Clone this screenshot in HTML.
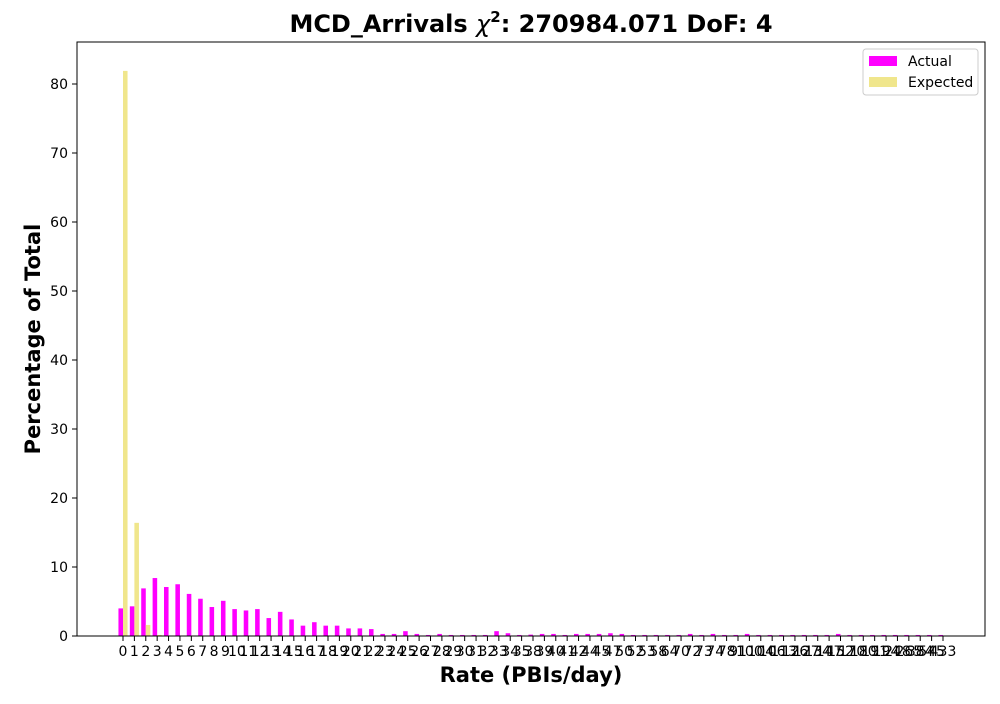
<!DOCTYPE html>
<html><head><meta charset="utf-8"><style>
body{margin:0;background:#fff;font-family:"DejaVu Sans","Liberation Sans",sans-serif}
svg text{font-family:"DejaVu Sans","Liberation Sans",sans-serif}
</style></head><body>
<svg id="chart" width="1000" height="700" xmlns="http://www.w3.org/2000/svg">
<rect width="1000" height="700" fill="#fff"/>
<text x="531" y="32" text-anchor="middle" font-size="24" font-weight="bold">MCD_Arrivals <tspan font-style="italic" font-weight="normal">χ</tspan><tspan font-size="15" dy="-10">2</tspan><tspan dy="10">: 270984.071 DoF: 4</tspan></text>
<g id="bars"></g>
<g id="yticks"></g>
<g id="xticks"></g>
<rect x="77" y="42" width="908" height="594" fill="none" stroke="#000" stroke-width="1"/>
<text x="531" y="682" text-anchor="middle" font-size="21" font-weight="bold">Rate (PBIs/day)</text>
<text transform="translate(40,339) rotate(-90)" text-anchor="middle" font-size="21" font-weight="bold">Percentage of Total</text>
<g>
<rect x="863" y="49" width="115" height="46" rx="3" fill="#fff" stroke="#ccc"/>
<rect x="869" y="56" width="28" height="10" fill="#ff00ff"/>
<text x="908" y="66" font-size="14">Actual</text>
<rect x="869" y="77" width="28" height="10" fill="#f0e68c"/>
<text x="908" y="87" font-size="14">Expected</text>
</g>
</svg>
<script>
const categories=["0","1","2","3","4","5","6","7","8","9","10","11","12","13","14","15","16","17","18","19","20","21","22","23","24","25","26","27","28","29","30","31","32","33","34","35","38","39","40","41","42","44","45","47","50","52","53","58","64","70","72","73","74","78","91","100","104","106","113","126","127","134","147","152","170","180","191","194","248","265","384","545","433"];
const actual=[4.0,4.3,6.9,8.4,7.1,7.5,6.1,5.4,4.2,5.1,3.9,3.7,3.9,2.6,3.5,2.4,1.5,2.0,1.5,1.5,1.1,1.1,1.0,0.3,0.3,0.7,0.3,0.15,0.3,0.15,0.15,0.15,0.15,0.7,0.4,0.15,0.2,0.3,0.3,0.15,0.3,0.3,0.3,0.4,0.3,0.15,0.15,0.15,0.15,0.15,0.3,0.15,0.3,0.15,0.15,0.3,0.15,0.15,0.15,0.15,0.15,0.15,0.15,0.3,0.15,0.15,0.15,0.15,0.15,0.15,0.15,0.15,0.15];
const expected=[81.9,16.4,1.6,0.15];
const yTicks=[0,10,20,30,40,50,60,70,80];
const NS="http://www.w3.org/2000/svg";
const x0=123, step=(943-123)/(categories.length-1), bw=step*0.4;
const xs=i=>x0+i*step;
const ys=v=>636-v*6.9;
function mk(t,a){const e=document.createElementNS(NS,t);for(const k in a)e.setAttribute(k,a[k]);return e;}
const bars=document.getElementById('bars');
actual.forEach((v,i)=>{const r=mk('rect',{x:xs(i)-bw,y:ys(v),width:bw,height:636-ys(v),fill:'#ff00ff'});

bars.appendChild(r);});
expected.forEach((v,i)=>{const r=mk('rect',{x:xs(i),y:ys(v),width:bw,height:636-ys(v),fill:'#f0e68c'});

bars.appendChild(r);});
const yg=document.getElementById('yticks');
yTicks.forEach(v=>{const y=ys(v);yg.appendChild(mk('line',{x1:72,x2:77,y1:y,y2:y,stroke:'#000'}));
const t=mk('text',{x:68,y:y+5,'text-anchor':'end','font-size':14});t.textContent=v;

yg.appendChild(t);});
const xg=document.getElementById('xticks');
categories.forEach((c,i)=>{const x=xs(i);xg.appendChild(mk('line',{x1:x,x2:x,y1:636,y2:641,stroke:'#000'}));
const t=mk('text',{x:x,y:656,'text-anchor':'middle','font-size':14});t.textContent=c;

xg.appendChild(t);});
</script>
</body></html>
